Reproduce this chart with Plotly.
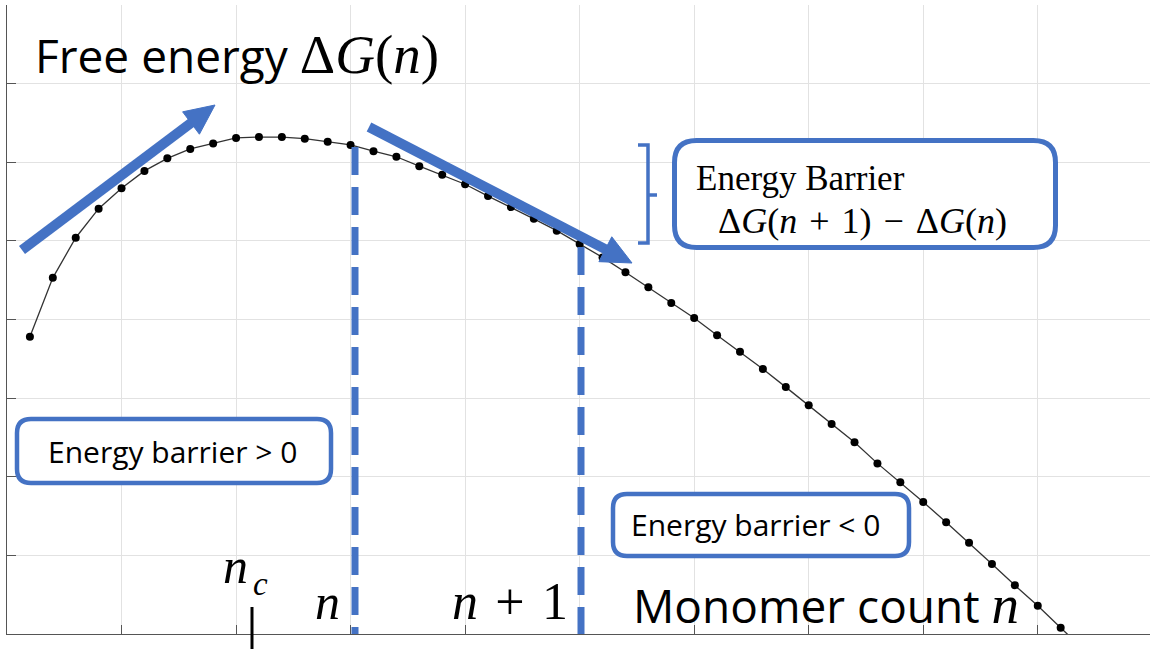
import math
import plotly.graph_objects as go

# ---------------- data ----------------
monomer_count = list(range(1, 48))
free_energy = [3.78, 4.53, 5.04, 5.41, 5.67, 5.89, 6.05, 6.17, 6.24, 6.31,
               6.32, 6.32, 6.30, 6.26, 6.22, 6.14, 6.07, 5.95, 5.84, 5.72,
               5.57, 5.43, 5.28, 5.13, 4.96, 4.79, 4.60, 4.41, 4.21, 4.02,
               3.80, 3.59, 3.37, 3.14, 2.91, 2.67, 2.44, 2.17, 1.93, 1.68,
               1.42, 1.16, 0.89, 0.62, 0.36, 0.08, -0.20]

# ---------------- layout constants ----------------
W, H = 1150, 649
ML, MR, MT, MB = 7, 0, 5, 15
XMAX, YMAX = 49.9, 8
PW, PH = W - ML - MR, H - MT - MB
BLUE = "#4472C4"
SANS = "'Open Sans', Lato, sans-serif"
SERIF = "'Liberation Serif', 'Times New Roman', serif"
SP = "\u2004"  # slightly wider math spacing


def dx(px):
    return (px - ML) / PW * XMAX


def dy(py):
    return (H - MB - py) / PH * YMAX


def pt(px, py):
    return f"{dx(px):.4f},{dy(py):.4f}"


def rrect(x0, y0, x1, y1, r):
    return (f"M {pt(x0 + r, y0)} L {pt(x1 - r, y0)} Q {pt(x1, y0)} {pt(x1, y0 + r)} "
            f"L {pt(x1, y1 - r)} Q {pt(x1, y1)} {pt(x1 - r, y1)} "
            f"L {pt(x0 + r, y1)} Q {pt(x0, y1)} {pt(x0, y1 - r)} "
            f"L {pt(x0, y0 + r)} Q {pt(x0, y0)} {pt(x0 + r, y0)} Z")


def arrow(sx, sy, tx, ty, width=10, head_len=30, head_w=28):
    vx, vy = tx - sx, ty - sy
    L = math.hypot(vx, vy)
    ux, uy = vx / L, vy / L
    nx, ny = -uy, ux
    bx, by = tx - head_len * ux, ty - head_len * uy
    line = dict(type="line", xref="x", yref="y",
                x0=dx(sx), y0=dy(sy), x1=dx(bx + 2 * ux), y1=dy(by + 2 * uy),
                line=dict(color=BLUE, width=width))
    c1 = (bx + nx * head_w / 2, by + ny * head_w / 2)
    c2 = (bx - nx * head_w / 2, by - ny * head_w / 2)
    head = dict(type="path", xref="x", yref="y",
                path=f"M {pt(tx, ty)} L {pt(*c1)} L {pt(*c2)} Z",
                fillcolor=BLUE, line=dict(color=BLUE, width=1))
    return [line, head]


fig = go.Figure()
fig.add_trace(go.Scatter(
    x=monomer_count, y=free_energy, mode="lines+markers",
    line=dict(color="#333333", width=1.3),
    marker=dict(color="black", size=8),
    showlegend=False, hoverinfo="skip", cliponaxis=True))

shapes = []
# dashed verticals at n and n+1
for px, top in [(355, 147), (581, 247)]:
    shapes.append(dict(type="line", xref="x", yref="y",
                       x0=dx(px), x1=dx(px), y0=dy(top), y1=dy(H - MB),
                       line=dict(color=BLUE, width=7, dash="28px,12px")))
# arrows
shapes += arrow(22, 250, 215, 105)
shapes += arrow(369, 127, 632, 263)
# bracket
shapes.append(dict(type="path", xref="x", yref="y",
                   path=(f"M {pt(638, 145)} L {pt(648, 145)} L {pt(648, 243)} L {pt(638, 243)} "
                         f"M {pt(648, 195)} L {pt(657, 195)}"),
                   line=dict(color=BLUE, width=3.5)))
# rounded boxes
for (x0, y0, x1, y1, r, w) in [(674.5, 140.5, 1055.5, 247.5, 22, 5),
                               (17, 419, 331, 483, 14, 4.5),
                               (613, 494, 909, 556, 14, 4.5)]:
    shapes.append(dict(type="path", xref="x", yref="y", path=rrect(x0, y0, x1, y1, r),
                       fillcolor="white", line=dict(color=BLUE, width=w)))
# n_c tick below axis
shapes.append(dict(type="line", xref="paper", yref="paper",
                   x0=(252 - ML) / PW, x1=(252 - ML) / PW,
                   y0=(H - MB - 607) / PH, y1=(H - MB - 652) / PH,
                   line=dict(color="black", width=3)))

annotations = []


def label(text, px, pyc, size, family, xanchor="left"):
    annotations.append(dict(x=dx(px), y=dy(pyc), xref="x", yref="y", text=text,
                            showarrow=False, xanchor=xanchor, yanchor="middle",
                            font=dict(size=size, family=family, color="black")))


math_span = "<span style=\"font-family:'Liberation Serif', serif; font-size:55px\">"
label("Free energy " + math_span + "Δ<i>G</i>(<i>n</i>)</span>", 33, 55, 46, SANS)
label("Monomer count " + math_span + "<i>n</i></span>", 631, 605, 46, SANS)
label("<i>n</i>", 221, 566, 50, SERIF)
label("<i>c</i>", 251, 584, 33, SERIF)
label("<i>n</i>", 313, 602, 50, SERIF)
label("<i>n</i>" + SP + "+" + SP + "1", 450, 601, 52, SERIF)
label("Energy Barrier", 694, 178, 35, SERIF)
label("Δ<i>G</i>(<i>n</i>" + SP + "+" + SP + "1)" + SP + "−" + SP + "Δ<i>G</i>(<i>n</i>)",
      716, 221, 36, SERIF)
label("Energy barrier > 0", 46, 451, 30, SANS)
label("Energy barrier < 0", 629, 524, 30, SANS)

axis_common = dict(showgrid=True, gridcolor="#e2e2e2", gridwidth=1,
                   ticks="inside", ticklen=9, tickcolor="#555555", tickwidth=1,
                   showticklabels=False, showline=True, linecolor="#555555",
                   linewidth=1.2, zeroline=False, mirror=False, fixedrange=True)

fig.update_layout(
    width=W, height=H, autosize=False,
    margin=dict(l=ML, r=MR, t=MT, b=MB, pad=0),
    paper_bgcolor="white", plot_bgcolor="white",
    xaxis=dict(range=[0, XMAX], dtick=5, tick0=0, **axis_common),
    yaxis=dict(range=[0, YMAX], dtick=1, tick0=0, **axis_common),
    shapes=shapes, annotations=annotations,
)

fig.write_html("out.html")
